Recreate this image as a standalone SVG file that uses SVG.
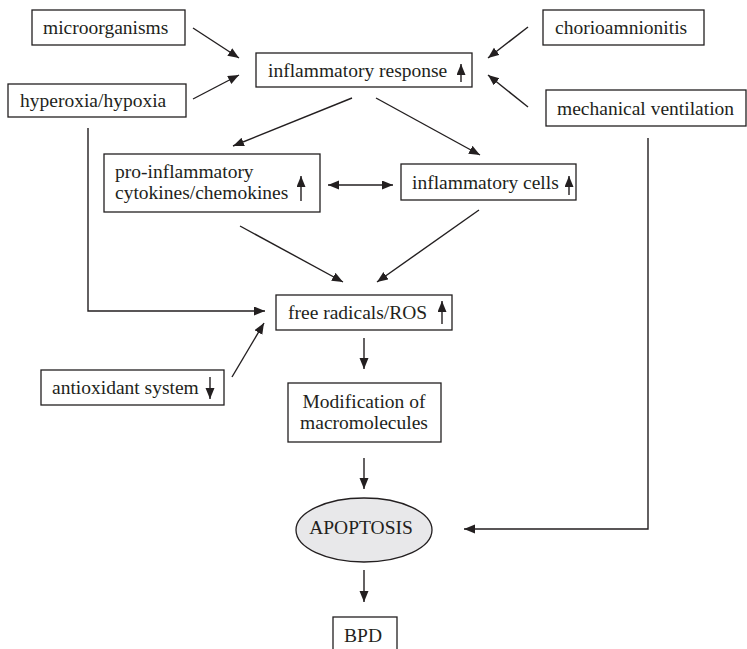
<svg xmlns="http://www.w3.org/2000/svg" width="747" height="649" viewBox="0 0 747 649" font-family="'Liberation Serif', 'DejaVu Serif', serif">
<defs>
<style>
text{font-family:'Liberation Serif','DejaVu Serif',serif;font-size:19.5px;fill:#231f20}
.box{fill:#fff;stroke:#231f20;stroke-width:1.3}
.c{text-anchor:middle}
.ln{fill:none;stroke:#231f20;stroke-width:1.4}
.ar{marker-end:url(#ah)}
</style>
<marker id="ah" markerUnits="userSpaceOnUse" markerWidth="12" markerHeight="10" refX="11" refY="4.5" orient="auto-start-reverse" viewBox="0 0 12 10">
<path d="M0,0 L11,4.5 L0,9 z" fill="#231f20"/>
</marker>
</defs>
<rect width="747" height="649" fill="#fff"/>

<g id="microorganisms">
<rect class="box" x="32" y="10" width="153" height="35"/>
<text x="43" y="34">microorganisms</text>
</g>
<g id="hyperoxia">
<rect class="box" x="8" y="84" width="178" height="33"/>
<text x="20" y="107">hyperoxia/hypoxia</text>
</g>
<g id="inflammatory-response">
<rect class="box" x="256" y="53" width="216" height="34"/>
<text x="268" y="77">inflammatory response</text>
<line class="ln ar" x1="461" y1="82" x2="461" y2="64"/>
</g>
<g id="chorioamnionitis">
<rect class="box" x="543" y="10" width="161" height="35"/>
<text x="555" y="34">chorioamnionitis</text>
</g>
<g id="mechanical-ventilation">
<rect class="box" x="546" y="90" width="200" height="36"/>
<text x="557" y="115">mechanical ventilation</text>
</g>
<g id="pro-inflammatory">
<rect class="box" x="104" y="154" width="216" height="58"/>
<text x="115" y="178">pro-inflammatory</text>
<text x="115" y="199">cytokines/chemokines</text>
<line class="ln ar" x1="301" y1="201" x2="301" y2="176"/>
</g>
<g id="inflammatory-cells">
<rect class="box" x="401" y="164" width="175" height="36"/>
<text x="412" y="189">inflammatory cells</text>
<line class="ln ar" x1="569" y1="195" x2="569" y2="176"/>
</g>
<g id="free-radicals">
<rect class="box" x="276" y="295" width="176" height="35"/>
<text x="288" y="319">free radicals/ROS</text>
<line class="ln ar" x1="442" y1="324" x2="442" y2="301"/>
</g>
<g id="antioxidant">
<rect class="box" x="41" y="370" width="183" height="35"/>
<text x="52" y="394">antioxidant system</text>
<line class="ln ar" x1="210" y1="377" x2="210" y2="399"/>
</g>
<g id="modification">
<rect class="box" x="288" y="383" width="153" height="59"/>
<text class="c" x="364" y="408">Modification of</text>
<text class="c" x="364" y="429">macromolecules</text>
</g>
<g id="apoptosis">
<ellipse cx="364" cy="530" rx="68" ry="32" fill="#e8e8ea" stroke="#231f20" stroke-width="1.3"/>
<text class="c" x="361" y="534">APOPTOSIS</text>
</g>
<g id="bpd">
<rect class="box" x="333" y="617" width="64" height="40"/>
<text class="c" x="363" y="642">BPD</text>
</g>

<g id="connectors">
<line class="ln ar" x1="193" y1="28" x2="239" y2="58"/>
<line class="ln ar" x1="193" y1="99" x2="239" y2="75"/>
<line class="ln ar" x1="528" y1="27" x2="488" y2="58"/>
<line class="ln ar" x1="528" y1="107" x2="488" y2="75"/>
<line class="ln ar" x1="352" y1="98" x2="233" y2="146"/>
<line class="ln ar" x1="376" y1="98" x2="480" y2="155"/>
<line class="ln ar" x1="328" y1="185" x2="393" y2="185" marker-start="url(#ah)"/>
<line class="ln ar" x1="240" y1="226" x2="343" y2="282"/>
<line class="ln ar" x1="479" y1="210" x2="377" y2="282"/>
<polyline class="ln ar" points="88,128 88,311 265,311"/>
<line class="ln ar" x1="232" y1="377" x2="264" y2="323"/>
<line class="ln ar" x1="364" y1="338" x2="364" y2="369"/>
<line class="ln ar" x1="364" y1="458" x2="364" y2="489"/>
<polyline class="ln ar" points="648,138 648,529 464,529"/>
<line class="ln ar" x1="364" y1="570" x2="364" y2="602"/>
</g>
</svg>
